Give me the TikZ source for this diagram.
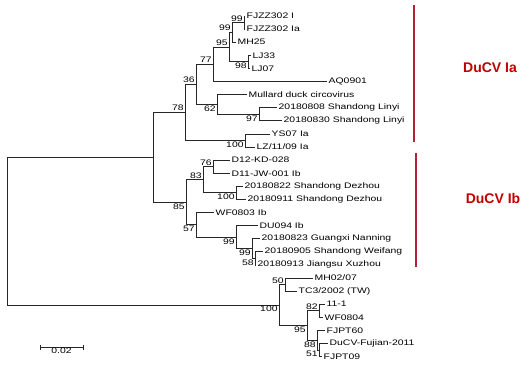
\documentclass[tikz,border=0pt]{standalone}
\usepackage{fontspec}
\setmainfont{Liberation Sans}
\newfontfamily\treefont[FakeStretch=1.3]{Liberation Sans}
\usepackage{tikz}
\usetikzlibrary{positioning}
\definecolor{cladered}{RGB}{192,0,0}
\definecolor{barred}{RGB}{178,34,52}

\begin{document}
\begin{tikzpicture}[
x=1pt,y=-1pt,
Branch/.style={draw=black!85,line width=0.75pt},
Leaf/.style={anchor=west,inner sep=1.5pt,font=\treefont\fontsize{8}{9}\selectfont},
BootUp/.style={anchor=south east,inner sep=1.2pt,font=\treefont\fontsize{8}{9}\selectfont},
BootDown/.style={anchor=north east,inner sep=1.2pt,font=\treefont\fontsize{8}{9}\selectfont},
CladeBar/.style={draw=barred,line width=1.8pt},
CladeName/.style={text=cladered,font=\bfseries\fontsize{14}{16}\selectfont}
]
\useasboundingbox (0,0) rectangle (531,369);

% leaves (tip of branch, label on the right)
\node[Leaf] (l1) at (245,16.0) {FJZZ302 I};
\node[Leaf] (l2) at (245,29.1) {FJZZ302 Ia};
\node[Leaf] (l3) at (236,42.2) {MH25};
\node[Leaf] (l4) at (251,55.3) {LJ33};
\node[Leaf] (l5) at (250,68.4) {LJ07};
\node[Leaf] (l6) at (327,81.5) {AQ0901};
\node[Leaf] (l7) at (247,94.6) {Mullard duck circovirus};
\node[Leaf] (l8) at (277,107.7) {20180808 Shandong Linyi};
\node[Leaf] (l9) at (282,120.8) {20180830 Shandong Linyi};
\node[Leaf] (l10) at (270,133.9) {YS07 Ia};
\node[Leaf] (l11) at (255,147.0) {LZ/11/09 Ia};
\node[Leaf] (l12) at (230,160.1) {D12-KD-028};
\node[Leaf] (l13) at (230,173.2) {D11-JW-001 Ib};
\node[Leaf] (l14) at (243,186.3) {20180822 Shandong Dezhou};
\node[Leaf] (l15) at (246,199.4) {20180911 Shandong Dezhou};
\node[Leaf] (l16) at (214,212.5) {WF0803 Ib};
\node[Leaf] (l17) at (258,225.6) {DU094 Ib};
\node[Leaf] (l18) at (260,238.7) {20180823 Guangxi Nanning};
\node[Leaf] (l19) at (263,251.8) {20180905 Shandong Weifang};
\node[Leaf] (l20) at (256,264.9) {20180913 Jiangsu Xuzhou};
\node[Leaf] (l21) at (313,278.0) {MH02/07};
\node[Leaf] (l22) at (297,291.1) {TC3/2002 (TW)};
\node[Leaf] (l23) at (325,304.2) {11-1};
\node[Leaf] (l24) at (323,317.3) {WF0804};
\node[Leaf] (l25) at (325,330.4) {FJPT60};
\node[Leaf] (l26) at (328,343.5) {DuCV-Fujian-2011};
\node[Leaf] (l27) at (322,356.6) {FJPT09};

% internal nodes
\coordinate (n99a) at (244,22.55);
\coordinate (n99b) at (232,32.4);
\coordinate (n98) at (248,61.85);
\coordinate (n95a) at (229,47.1);
\coordinate (n77) at (213,64.3);
\coordinate (n97) at (259,114.25);
\coordinate (n62) at (217,104.4);
\coordinate (n36) at (196,84.4);
\coordinate (n100a) at (245,140.45);
\coordinate (n78) at (185,112.4);
\coordinate (n76) at (213,166.65);
\coordinate (n100b) at (236,192.85);
\coordinate (n83) at (203,179.75);
\coordinate (n58) at (255,258.35);
\coordinate (n99d) at (252,248.5);
\coordinate (n99c) at (236,237.1);
\coordinate (n57) at (196,224.8);
\coordinate (n85) at (186,202.3);
\coordinate (nI) at (153,157.35);
\coordinate (n50) at (285,284.55);
\coordinate (n82) at (319,310.75);
\coordinate (n51) at (319,350.05);
\coordinate (n88) at (317,340.2);
\coordinate (n95b) at (307,325.5);
\coordinate (nII) at (279,305.0);
\coordinate (root) at (7,231.2);

% branches
\draw[Branch] (n99a) |- (l1.west);
\draw[Branch] (n99a) |- (l2.west);
\draw[Branch] (n99b) |- (n99a);
\draw[Branch] (n99b) |- (l3.west);
\draw[Branch] (n98) |- (l4.west);
\draw[Branch] (n98) |- (l5.west);
\draw[Branch] (n95a) |- (n99b);
\draw[Branch] (n95a) |- (n98);
\draw[Branch] (n77) |- (n95a);
\draw[Branch] (n77) |- (l6.west);
\draw[Branch] (n97) |- (l8.west);
\draw[Branch] (n97) |- (l9.west);
\draw[Branch] (n62) |- (l7.west);
\draw[Branch] (n62) |- (n97);
\draw[Branch] (n36) |- (n77);
\draw[Branch] (n36) |- (n62);
\draw[Branch] (n100a) |- (l10.west);
\draw[Branch] (n100a) |- (l11.west);
\draw[Branch] (n78) |- (n36);
\draw[Branch] (n78) |- (n100a);
\draw[Branch] (n76) |- (l12.west);
\draw[Branch] (n76) |- (l13.west);
\draw[Branch] (n100b) |- (l14.west);
\draw[Branch] (n100b) |- (l15.west);
\draw[Branch] (n83) |- (n76);
\draw[Branch] (n83) |- (n100b);
\draw[Branch] (n58) |- (l19.west);
\draw[Branch] (n58) |- (l20.west);
\draw[Branch] (n99d) |- (l18.west);
\draw[Branch] (n99d) |- (n58);
\draw[Branch] (n99c) |- (l17.west);
\draw[Branch] (n99c) |- (n99d);
\draw[Branch] (n57) |- (l16.west);
\draw[Branch] (n57) |- (n99c);
\draw[Branch] (n85) |- (n83);
\draw[Branch] (n85) |- (n57);
\draw[Branch] (nI) |- (n78);
\draw[Branch] (nI) |- (n85);
\draw[Branch] (n50) |- (l21.west);
\draw[Branch] (n50) |- (l22.west);
\draw[Branch] (n82) |- (l23.west);
\draw[Branch] (n82) |- (l24.west);
\draw[Branch] (n51) |- (l26.west);
\draw[Branch] (n51) |- (l27.west);
\draw[Branch] (n88) |- (l25.west);
\draw[Branch] (n88) |- (n51);
\draw[Branch] (n95b) |- (n82);
\draw[Branch] (n95b) |- (n88);
\draw[Branch] (nII) |- (n50);
\draw[Branch] (nII) |- (n95b);
\draw[Branch] (root) |- (nI);
\draw[Branch] (root) |- (nII);

% bootstrap values
\node[BootUp] (b99a) at (n99a) {99};
\node[BootUp] (b99b) at (n99b) {99};
\node[BootDown] (b98) at (n98) {98};
\node[BootUp] (b95a) at (n95a) {95};
\node[BootUp] (b77) at (n77) {77};
\node[BootDown] (b97) at (n97) {97};
\node[BootDown] (b62) at (n62) {62};
\node[BootUp] (b36) at (n36) {36};
\node[BootDown] (b100a) at (n100a) {100};
\node[BootUp] (b78) at (n78) {78};
\node[BootUp] (b76) at (n76) {76};
\node[BootDown] (b100b) at (n100b) {100};
\node[BootUp] (b83) at (n83) {83};
\node[BootDown] (b58) at (n58) {58};
\node[BootDown] (b99d) at (n99d) {99};
\node[BootDown] (b99c) at (n99c) {99};
\node[BootDown] (b57) at (n57) {57};
\node[BootDown] (b85) at (n85) {85};
\node[BootUp] (b50) at (n50) {50};
\node[BootUp] (b82) at (n82) {82};
\node[BootDown] (b51) at (n51) {51};
\node[BootDown] (b88) at (n88) {88};
\node[BootDown] (b95b) at (n95b) {95};
\node[BootDown] (b100c) at (nII) {100};

% clade bars and names
\coordinate (IaTop) at (414,5);
\coordinate (IaBot) at (414,142);
\coordinate (IbTop) at (416,153);
\coordinate (IbBot) at (416,267);
\draw[CladeBar] (IaTop) -- (IaBot);
\draw[CladeBar] (IbTop) -- (IbBot);
\node[CladeName] (nameIa) at (490,68) {DuCV Ia};
\node[CladeName] (nameIb) at (493,198) {DuCV Ib};

% scale bar
\coordinate (sbL) at (40,347);
\coordinate (sbR) at (83,347);
\coordinate (sbM) at (61.5,347);
\draw[Branch] (sbL) -- (sbR);
\draw[Branch] ([yshift=2.5pt]sbL) -- ([yshift=-2.5pt]sbL);
\draw[Branch] ([yshift=2.5pt]sbR) -- ([yshift=-2.5pt]sbR);
\node[inner sep=0.3pt,below=0pt of sbM,font=\treefont\fontsize{8}{9}\selectfont] (sblabel) {0.02};

\end{tikzpicture}
\end{document}
